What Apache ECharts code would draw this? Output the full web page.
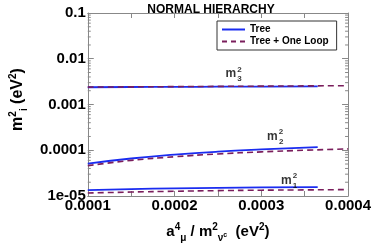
<!DOCTYPE html>
<html><head><meta charset="utf-8">
<script src="https://cdn.jsdelivr.net/npm/echarts@6/dist/echarts.min.js"></script>
<style>html,body{margin:0;padding:0;background:#fff}#c{width:374px;height:248px}</style>
</head><body><div id="c"></div>
<script>
const xVals = [0.0001, 0.00015, 0.0002, 0.00025, 0.0003, 0.000365];
const xValsLoop = [0.0001, 0.00015, 0.0002, 0.00025, 0.0003, 0.00035, 0.0004];
const m3Tree = [0.00238, 0.00241, 0.00243, 0.00245, 0.00247, 0.00249];
const m3Loop = [0.00240, 0.00243, 0.00246, 0.00249, 0.00252, 0.00255, 0.00258];
const m2Tree = [0.000051, 0.000066, 0.000080, 0.000093, 0.000104, 0.000117];
const m2Loop = [0.000046, 0.000060, 0.000072, 0.000083, 0.000092, 0.000100, 0.000107];
const m1Tree = [1.34e-5, 1.41e-5, 1.47e-5, 1.51e-5, 1.54e-5, 1.57e-5];
const m1Loop = [1.16e-5, 1.22e-5, 1.27e-5, 1.31e-5, 1.34e-5, 1.36e-5, 1.38e-5];
const yTickLabels = {'-1':'0.1','-2':'0.01','-3':'0.001','-4':'0.0001','-5':'1e-05'};
const xTickLabels = ['0.0001','0.0002','0.0003','0.0004'];
const curveLabels = [
  {x: 0.000268, y: 0.0046, sub: '3'},
  {x: 0.000316, y: 0.000200, sub: '2'},
  {x: 0.000332, y: 2.2e-5, sub: '1'}
];
const minorY = [];
for (let e = -5; e < -1; e++) for (let k = 2; k <= 9; k++) minorY.push(k * Math.pow(10, e));

const pair = (xs, ys) => xs.map((x, i) => [x, ys[i]]);
const TREE = '#1a2cf0', LOOP = '#7a1e5c', FRAME = '#888';
const font = 'Liberation Sans, Arial, sans-serif';

const chart = echarts.init(document.getElementById('c'), null, {renderer: 'canvas'});
const yFmt = v => { const e = Math.round(Math.log10(v)); return yTickLabels[String(e)] || ''; };
const xFmt = v => { const i = Math.round(v * 1e4) - 1; return (Math.abs(v * 1e4 - Math.round(v * 1e4)) < 1e-6) ? (xTickLabels[i] || '') : ''; };

const common = {
  axisLine: {show: true, lineStyle: {color: FRAME, width: 1}},
  splitLine: {show: false}
};
const txt = (size) => ({fontFamily: font, fontSize: size, fontWeight: 'bold', color: '#000'});

chart.setOption({
  animation: false,
  title: {text: 'NORMAL HIERARCHY', left: 206, top: -1, textAlign: 'center',
    textStyle: txt(12)},
  grid: {left: 74, right: 25, top: 13, bottom: 44},
  legend: {
    show: true, left: 217, top: 21, orient: 'vertical', itemGap: 1,
    borderColor: '#333', borderWidth: 1, padding: [3, 8, 3, 5],
    itemWidth: 23, itemHeight: 2,
    textStyle: Object.assign(txt(10), {lineHeight: 11}),
    data: [{name: 'Tree', icon: 'rect'}, {name: 'Tree + One Loop', icon: 'path://M0,0 H5 V2 H0 Z M9,0 H14 V2 H9 Z M18,0 H23 V2 H18 Z'}]
  },
  xAxis: [
    Object.assign({}, common, {type: 'value', min: 0.0001, max: 0.0004, interval: 0.0001,
      axisTick: {show: true, inside: true, length: 5, lineStyle: {color: FRAME}},
      minorTick: {show: true, splitNumber: 2, length: 5, lineStyle: {color: FRAME}},
      axisLabel: {formatter: xFmt, margin: 2, showMinLabel: true, showMaxLabel: true, ...txt(15)},
      name: '{a|a}{sup|4}{sub|μ}{a| / m}{sup|2}{sub|ν}{supc|c}{a|  (eV}{sup|2}{a|)}', nameLocation: 'middle', nameGap: 25,
      nameTextStyle: {rich: {
        a: txt(15),
        sup: Object.assign(txt(10), {padding: [0, 0, 9, 0]}),
        sub: Object.assign(txt(10), {padding: [12, 0, 0, 0]}),
        supc: Object.assign(txt(7), {padding: [6, 0, 0, 0]})
      }}}),
    Object.assign({}, common, {type: 'value', position: 'top', min: 0.0001, max: 0.0004, interval: 0.0001,
      axisTick: {show: true, inside: true, length: 5, lineStyle: {color: FRAME}},
      minorTick: {show: true, splitNumber: 2, length: 5, lineStyle: {color: FRAME}},
      axisLabel: {show: false}})
  ],
  yAxis: [
    Object.assign({}, common, {type: 'log', min: 1e-5, max: 0.1, logBase: 10,
      axisTick: {show: true, inside: true, length: 6, lineStyle: {color: FRAME}},
      axisLabel: {formatter: yFmt, margin: 2, ...txt(15)},
      name: '{a|m}{sup|2}{sub|i}{a| (eV}{sup|2}{a|)}', nameLocation: 'middle', nameGap: 50, nameRotate: 90,
      nameTextStyle: {padding: [0, 0, 0, 10], rich: {
        a: txt(16),
        sup: Object.assign(txt(10), {padding: [0, 0, 10, 0]}),
        sub: Object.assign(txt(10), {padding: [12, 0, 0, 0]})
      }}}),
    Object.assign({}, common, {type: 'log', position: 'right', min: 1e-5, max: 0.1, logBase: 10,
      axisTick: {show: true, inside: true, length: 6, lineStyle: {color: FRAME}}, axisLabel: {show: false}})
  ],
  series: [
    {name: 'Tree', type: 'line', data: pair(xVals, m3Tree), smooth: true, symbol: 'none', lineStyle: {color: TREE, width: 1.8}, itemStyle: {color: TREE}, z: 3},
    {name: 'Tree', type: 'line', data: pair(xVals, m2Tree), smooth: true, symbol: 'none', lineStyle: {color: TREE, width: 1.8}, z: 3},
    {name: 'Tree', type: 'line', data: pair(xVals, m1Tree), smooth: true, symbol: 'none', lineStyle: {color: TREE, width: 1.8}, z: 3},
    {name: 'Tree + One Loop', type: 'line', data: pair(xValsLoop, m3Loop), smooth: true, symbol: 'none', lineStyle: {color: LOOP, width: 1.6, type: [6, 4]}, itemStyle: {color: LOOP}, z: 4},
    {name: 'Tree + One Loop', type: 'line', data: pair(xValsLoop, m2Loop), smooth: true, symbol: 'none', lineStyle: {color: LOOP, width: 1.6, type: [6, 4]}, z: 4},
    {name: 'Tree + One Loop', type: 'line', data: pair(xValsLoop, m1Loop), smooth: true, symbol: 'none', lineStyle: {color: LOOP, width: 1.6, type: [6, 4]}, z: 4},
    {type: 'custom', silent: true, data: minorY.map(v => [0.0001, v]), encode: {x: 0, y: 1},
      renderItem: (params, api) => {
        const y = api.coord([0.0001, api.value(1)])[1];
        const xl = api.coord([0.0001, 1e-5])[0], xr = api.coord([0.0004, 1e-5])[0];
        return {type: 'group', children: [
          {type: 'line', shape: {x1: xl, y1: y, x2: xl + 3, y2: y}, style: {stroke: FRAME, lineWidth: 1}},
          {type: 'line', shape: {x1: xr, y1: y, x2: xr - 3, y2: y}, style: {stroke: FRAME, lineWidth: 1}}
        ]};
      }},
    {type: 'scatter', symbolSize: 0, silent: true, z: 5,
      data: curveLabels.map(d => ({value: [d.x, d.y], label: {show: true, position: 'inside',
        formatter: '{a|m}{s|2}',
        rich: {a: txt(12), s: Object.assign(txt(8), {padding: [0, 0, 9, 1]})}}}))
        .concat(curveLabels.map(d => ({value: [d.x, d.y], label: {show: true, position: 'inside', offset: [6, 5],
        formatter: d.sub, ...txt(8)}})))
    }
  ]
});
</script></body></html>
